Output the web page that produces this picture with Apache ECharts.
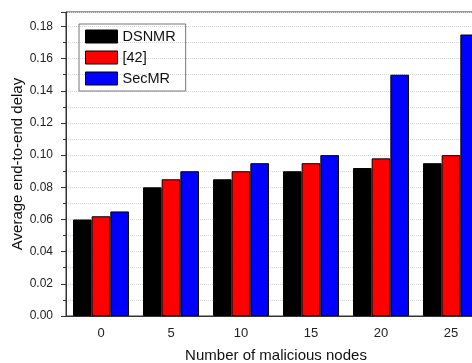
<!DOCTYPE html>
<html>
<head>
<meta charset="utf-8">
<script src="https://cdn.jsdelivr.net/npm/echarts@6/dist/echarts.min.js"></script>
<style>
  html, body { margin: 0; padding: 0; background: #fff; }
  #chart { width: 472px; height: 363px; }
</style>
</head>
<body>
<div id="chart"></div>
<script>
// data
var nodeCounts = ["0", "5", "10", "15", "20", "25"];
var dsnmrDelay = [0.060, 0.080, 0.085, 0.090, 0.092, 0.095];
var ref42Delay = [0.062, 0.085, 0.090, 0.095, 0.098, 0.100];
var secmrDelay = [0.065, 0.090, 0.095, 0.100, 0.150, 0.175];

var font = "Liberation Sans, Arial, sans-serif";
var axisColor = "#333";

var chart = echarts.init(document.getElementById("chart"));

function bar(name, data, color) {
  return {
    name: name,
    type: "bar",
    data: data,
    barGap: "0%",
    barCategoryGap: "20%",
    itemStyle: { color: color, borderColor: "#000", borderWidth: 1 }
  };
}

var option = {
  animation: false,
  textStyle: { fontFamily: font },
  grid: {
    left: 66,
    top: 12,
    width: 420,
    height: 304,
    outerBoundsMode: "none", // plot runs past the right edge like the original
    show: true,
    borderColor: axisColor,
    borderWidth: 1
  },
  legend: {
    orient: "vertical",
    left: 79,
    top: 24,
    itemWidth: 32,
    itemHeight: 13,
    itemGap: 6,
    padding: [5, 10, 5, 6],
    borderColor: "#777",
    borderWidth: 1,
    icon: "rect",
    textStyle: { fontFamily: font, fontSize: 14.5, color: "#111" },
    itemStyle: { borderColor: "#000", borderWidth: 1 },
    data: ["DSNMR", "[42]", "SecMR"]
  },
  xAxis: [
    {
      type: "category",
      data: nodeCounts,
      boundaryGap: true,
      name: "Number of malicious nodes",
      nameLocation: "middle",
      nameGap: 32,
      nameMoveOverlap: false,
      nameTextStyle: { fontSize: 15, color: "#111", fontFamily: font },
      axisLine: { lineStyle: { color: axisColor, width: 1 } },
      axisTick: { alignWithLabel: true, length: 5, lineStyle: { color: axisColor } },
      axisLabel: { margin: 11, fontSize: 13, color: "#222", fontFamily: font },
      splitLine: { show: false }
    },
    {
      // boundary ticks between groups
      type: "category",
      data: nodeCounts,
      position: "bottom",
      boundaryGap: true,
      axisLine: { show: false },
      axisTick: { length: 3, lineStyle: { color: axisColor } },
      axisLabel: { show: false },
      splitLine: { show: false }
    }
  ],
  yAxis: {
    type: "value",
    min: 0,
    max: 0.189,
    interval: 0.02,
    name: "Average end-to-end delay",
    nameLocation: "middle",
    nameGap: 41,
    nameMoveOverlap: false,
    nameTextStyle: { fontSize: 15, color: "#111", fontFamily: font },
    axisLine: { show: true, lineStyle: { color: axisColor, width: 1 } },
    axisTick: { show: true, length: 5, lineStyle: { color: axisColor } },
    minorTick: { show: true, splitNumber: 2, length: 3, lineStyle: { color: axisColor } },
    axisLabel: {
      margin: 13,
      fontSize: 12,
      color: "#222",
      fontFamily: font,
      showMaxLabel: false,
      formatter: function (v) { return v.toFixed(2); }
    },
    splitLine: { show: true, lineStyle: { color: "#d6d6d6", type: "dotted" } },
    minorSplitLine: { show: true, lineStyle: { color: "#d6d6d6", type: "dotted" } }
  },
  series: [
    bar("DSNMR", dsnmrDelay, "#000000"),
    bar("[42]", ref42Delay, "#ff0000"),
    bar("SecMR", secmrDelay, "#0000ff")
  ]
};

chart.setOption(option);
</script>
</body>
</html>
